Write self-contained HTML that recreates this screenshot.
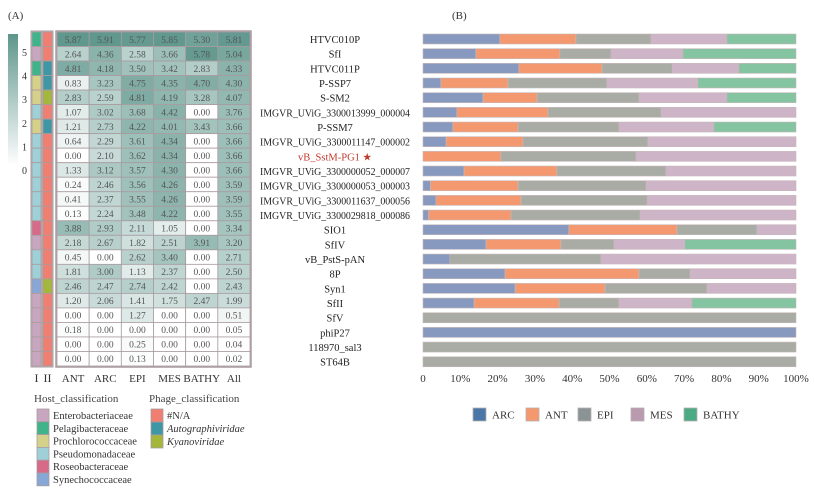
<!DOCTYPE html>
<html><head><meta charset="utf-8">
<style>
html,body{margin:0;padding:0;background:#fff;}
body{width:814px;height:490px;overflow:hidden;font-family:"Liberation Serif",serif;}
svg text{font-family:"Liberation Serif",serif;}
</style></head>
<body>
<svg id="fig" width="814" height="490" xmlns="http://www.w3.org/2000/svg">
<defs>
<linearGradient id="cbar" x1="0" y1="0" x2="0" y2="1">
<stop offset="0" stop-color="#5e968c"/><stop offset="1" stop-color="#ffffff"/>
</linearGradient>
</defs>
<text x="8" y="19" font-size="11" fill="#333">(A)</text>
<text x="452" y="19" font-size="11" fill="#333">(B)</text>
<rect x="8" y="34" width="10" height="132" fill="url(#cbar)"/>
<g id="cbarTicks"></g>
<g id="heat"></g>
<g id="legA"></g>
<g id="bars"></g>
</svg>
<script>
// ---------- heatmap data ----------
const heatCols = ["ANT","ARC","EPI","MES","BATHY","All"];
const heatVals = [
[5.87,5.91,5.77,5.85,5.30,5.81],
[2.64,4.36,2.58,3.66,5.78,5.04],
[4.81,4.18,3.50,3.42,2.83,4.33],
[0.83,3.23,4.75,4.35,4.70,4.30],
[2.83,2.59,4.81,4.19,3.28,4.07],
[1.07,3.02,3.68,4.42,0.00,3.76],
[1.21,2.73,4.22,4.01,3.43,3.66],
[0.64,2.29,3.61,4.34,0.00,3.66],
[0.00,2.10,3.62,4.34,0.00,3.66],
[1.33,3.12,3.57,4.30,0.00,3.66],
[0.24,2.46,3.56,4.26,0.00,3.59],
[0.41,2.37,3.55,4.26,0.00,3.59],
[0.13,2.24,3.48,4.22,0.00,3.55],
[3.88,2.93,2.11,1.05,0.00,3.34],
[2.18,2.67,1.82,2.51,3.91,3.20],
[0.45,0.00,2.62,3.40,0.00,2.71],
[1.81,3.00,1.13,2.37,0.00,2.50],
[2.46,2.47,2.74,2.42,0.00,2.43],
[1.20,2.06,1.41,1.75,2.47,1.99],
[0.00,0.00,1.27,0.00,0.00,0.51],
[0.18,0.00,0.00,0.00,0.00,0.05],
[0.00,0.00,0.25,0.00,0.00,0.04],
[0.00,0.00,0.13,0.00,0.00,0.02]
];
const hostNames = ["Enterobacteriaceae","Pelagibacteraceae","Prochlorococcaceae","Pseudomonadaceae","Roseobacteraceae","Synechococcaceae"];
const hostColors = ["#c9a6c0","#3fb38a","#d6d18a","#9fd0d7","#d66a88","#87a7d7"];
const hostIdx = [1,0,1,2,2,3,2,3,3,3,3,3,3,4,0,3,3,5,0,0,0,0,0];
const phageNames = ["#N/A","Autographiviridae","Kyanoviridae"];
const phageColors = ["#f07f72","#3f97a5","#a3b83a"];
const phageIdx = [0,0,1,1,2,0,1,0,0,0,0,0,0,0,0,0,0,2,0,0,0,0,0];
const cbarTicks = [0,1,2,3,4,5];

// ---------- bar chart data ----------
const names = ["HTVC010P","SfI","HTVC011P","P-SSP7","S-SM2","IMGVR_UViG_3300013999_000004","P-SSM7","IMGVR_UViG_3300011147_000002","vB_SstM-PG1","IMGVR_UViG_3300000052_000007","IMGVR_UViG_3300000053_000003","IMGVR_UViG_3300011637_000056","IMGVR_UViG_3300029818_000086","SIO1","SfIV","vB_PstS-pAN","8P","Syn1","SfII","SfV","phiP27","118970_sal3","ST64B"];
const seriesNames = ["ARC","ANT","EPI","MES","BATHY"];
const ARC   = [20.6,14.2,25.7,4.8,16.1,9.1,8.0,6.2,0,11.0,2.0,3.5,1.5,39.1,16.9,7.2,22.0,24.7,13.7,0,100,0,0];
const ANT   = [20.4,22.5,22.3,18.0,14.5,24.4,17.5,20.6,20.9,24.9,23.5,22.8,22.1,29.0,20.1,0,35.9,24.1,22.8,0,0,0,0];
const EPI   = [20.1,13.7,18.8,26.5,27.3,30.3,27.0,33.5,36.2,29.2,34.3,33.8,34.6,21.4,14.2,40.5,13.7,27.3,16.0,100,0,100,100];
const MES   = [20.4,19.3,17.9,24.4,23.6,36.2,25.5,39.7,42.9,34.9,40.2,39.9,41.8,10.5,19.0,52.3,28.4,23.9,19.6,0,0,0,0];
const BATHY = [18.5,30.3,15.3,26.3,18.5,0,22.0,0,0,0,0,0,0,0,29.8,0,0,0,27.9,0,0,0,0];
const xTicks = [0,10,20,30,40,50,60,70,80,90,100];
const xTickLabels = ["0","10%","20%","30%","40%","50%","60%","70%","80%","90%","100%"];

const NS="http://www.w3.org/2000/svg";
function mk(tag, attrs, parent, txt){const e=document.createElementNS(NS,tag);for(const k in attrs)e.setAttribute(k,attrs[k]);if(txt!==undefined)e.textContent=txt;parent.appendChild(e);return e;}

// heatmap
const heat=document.getElementById('heat');
const hx0=57, hx1=250, hy0=32, hy1=366;
const cw=(hx1-hx0)/heatCols.length, rh=(hy1-hy0)/heatVals.length;
const vmax=6;
function heatColor(v){const t=Math.min(v/vmax,1);const a=[255,255,255],b=[94,150,140];return `rgb(${a.map((c,i)=>Math.round(c+(b[i]-c)*t)).join(',')})`;}
mk('rect',{x:hx0-1,y:hy0-1,width:hx1-hx0+2,height:hy1-hy0+2,fill:'none',stroke:'#a89c9f','stroke-width':1.5},heat);
heatVals.forEach((row,r)=>{
  const y=hy0+r*rh;
  let e=mk('rect',{x:32,y:y,width:9,height:rh,fill:hostColors[hostIdx[r]],stroke:'#a89c9f','stroke-width':0.8},heat);
  
  
  e=mk('rect',{x:43,y:y,width:9,height:rh,fill:phageColors[phageIdx[r]],stroke:'#a89c9f','stroke-width':0.8},heat);
  
  
  row.forEach((v,c)=>{
    const x=hx0+c*cw;
    const cell=mk('rect',{x:x,y:y,width:cw,height:rh,fill:heatColor(v),stroke:'#a89c9f','stroke-width':0.8},heat);
    
    
    const t=mk('text',{x:x+cw/2,y:y+rh/2+3.5,'font-size':9.5,'text-anchor':'middle',fill:'#555'},heat,v.toFixed(2));
    
    
  });
});
mk('rect',{x:31,y:hy0-1,width:11,height:hy1-hy0+2,fill:'none',stroke:'#a89c9f','stroke-width':1},heat);
mk('rect',{x:42,y:hy0-1,width:11,height:hy1-hy0+2,fill:'none',stroke:'#a89c9f','stroke-width':1},heat);
let tt=mk('text',{x:36.5,y:382,'font-size':12,'text-anchor':'middle',fill:'#333'},heat,'I');


tt=mk('text',{x:47.5,y:382,'font-size':12,'text-anchor':'middle',fill:'#333'},heat,'II');


heatCols.forEach((c,i)=>{
  const t=mk('text',{x:hx0+i*cw+cw/2,y:382,'font-size':11,'text-anchor':'middle',fill:'#333'},heat,c);
  
  
});
// colorbar ticks
const cbg=document.getElementById('cbarTicks');
cbarTicks.forEach(v=>{
  const t=mk('text',{x:22,y:171-v*23.6+3,'font-size':10,fill:'#333'},cbg,String(v));
  
  
});
// legend A
const legA=document.getElementById('legA');
tt=mk('text',{x:34,y:402,'font-size':11,fill:'#444'},legA,'Host_classification');


tt=mk('text',{x:149,y:402,'font-size':11,fill:'#444'},legA,'Phage_classification');


hostNames.forEach((n,i)=>{
  const y=409+i*12.8;
  const r=mk('rect',{x:37,y:y,width:12,height:12.8,fill:hostColors[i],stroke:'#a89c9f','stroke-width':0.8},legA);
  
  
  const t=mk('text',{x:53,y:y+10,'font-size':10.5,fill:'#333'},legA,n);
  
  
});
phageNames.forEach((n,i)=>{
  const y=409+i*13;
  const r=mk('rect',{x:151,y:y,width:12,height:13,fill:phageColors[i],stroke:'#a89c9f','stroke-width':0.8},legA);
  
  
  const t=mk('text',{x:167,y:y+10,'font-size':10.5,fill:'#333','font-style':i>0?'italic':'normal'},legA,n);
  
  
});

// bar chart
const bars=document.getElementById('bars');
const bx0=423, bx1=796, by0=39, pitch=14.67, bh=10;
const xs=v=>bx0+(bx1-bx0)*v/100;
const ys=i=>by0+i*pitch;
const series=[ARC,ANT,EPI,MES,BATHY];
const barColors=["#8799bf","#f4996f","#a8aca4","#cdb4c6","#84c4a0"];
const legColors=["#4a77a7","#f4996f","#8a9494","#b99aae","#4aab84"];
names.forEach((n,i)=>{
  const red = n==="vB_SstM-PG1";
  const t=mk('text',{x:335,y:ys(i)+4,'font-size':10.5,'text-anchor':'middle',fill:red?'#c0392b':'#222'},bars,red?n+' \u2605':n);
  
  
  if(t.getComputedTextLength()>150){t.setAttribute('textLength',150);t.setAttribute('lengthAdjust','spacingAndGlyphs');}
  let acc=0;
  series.forEach((s,k)=>{
    const v=s[i];
    if(v>0){
      const r=mk('rect',{x:xs(acc),y:ys(i)-bh/2,width:xs(acc+v)-xs(acc),height:bh,fill:barColors[k],stroke:'#c8b8bb','stroke-width':0.6},bars);
      
      
    }
    acc+=v;
  });
});
xTicks.forEach((v,i)=>{
  const t=mk('text',{x:xs(v),y:382,'font-size':11,'text-anchor':'middle',fill:'#333'},bars,xTickLabels[i]);
  
  
});
const legX=[473,526,578,631,684];
seriesNames.forEach((n,k)=>{
  const r=mk('rect',{x:legX[k],y:408,width:13,height:13,fill:legColors[k],stroke:'#b8b0b0','stroke-width':0.8},bars);
  
  
  const t=mk('text',{x:legX[k]+19,y:418.5,'font-size':11,fill:'#333'},bars,n);
  
  
});
</script>
</body></html>
